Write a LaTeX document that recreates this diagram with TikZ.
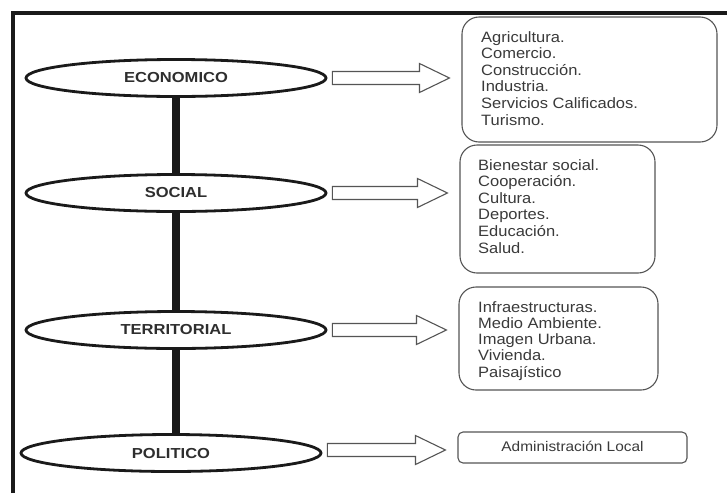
\documentclass[tikz,border=0pt]{standalone}
\usepackage{fontspec}
\setmainfont{Liberation Sans}
\newfontfamily\listfont[FakeStretch=1.1]{Liberation Sans}
\newfontfamily\labelfont[FakeStretch=1.14]{Liberation Sans}
\usetikzlibrary{calc}
\definecolor{framecol}{HTML}{1A1A1A}
\definecolor{boxcol}{HTML}{555555}
\definecolor{txtcol}{HTML}{3A3A3A}
\definecolor{lblcol}{HTML}{2E2E2E}
\tikzset{
  dim/.style={ellipse, draw=framecol, line width=2.8pt, fill=white,
    minimum width=300pt, minimum height=37pt, inner sep=0pt,
    font=\labelfont\bfseries\fontsize{14.5}{16}\selectfont, text=lblcol},
  itembox/.style={draw=boxcol, line width=1.1pt, rounded corners=17pt, inner sep=0pt},
  itemtext/.style={anchor=base west, align=left, inner sep=0pt, text=txtcol,
    font=\listfont\fontsize{15}{16.6}\selectfont},
  blockarrow/.style={draw=boxcol, line width=1.1pt, fill=white, line join=miter},
  spine/.style={line width=8pt, draw=framecol}
}
\usetikzlibrary{shapes.geometric}
\begin{document}
\begin{tikzpicture}[x=1pt, y=-1pt]
\useasboundingbox (0,0) rectangle (727,493);
\fill[white] (0,0) rectangle (727,493);
% frame
\coordinate (fb) at (13,493);
\coordinate (fc) at (13,12.5);
\coordinate (fr) at (727,12.5);
\draw[line width=4pt, draw=framecol] (fb) -- (fc) -- (fr);

% dimension ellipses
\node[dim] (e1) at (176,78) {ECONOMICO};
\node[dim] (e2) at (176,193) {SOCIAL};
\node[dim] (e3) at (176,330) {TERRITORIAL};
\node[dim] (e4) at (171,453) {POLITICO};

% spine
\draw[spine] (e1.south) -- (e2.north);
\draw[spine] (e2.south) -- (e3.north);
\draw[spine] (e3.south) -- (e3.south |- e4.north);

% boxes
\node[itembox, minimum width=255pt, minimum height=125pt] (b1) at (589.5,79.5) {};
\node[itembox, minimum width=195pt, minimum height=128pt] (b2) at (557.5,209) {};
\node[itembox, minimum width=199pt, minimum height=103pt] (b3) at (558.5,338.5) {};
\node[itembox, rounded corners=5pt, minimum width=229pt, minimum height=31pt,
      text=txtcol, font=\listfont\fontsize{14}{16}\selectfont] (b4) at (572.5,447.5)
      {\raisebox{2pt}{Administración Local}};

% texts (anchor = baseline of the last line)
\node[itemtext] (t1) at (481,125) {Agricultura.\\Comercio.\\Construcción.\\Industria.\\Servicios Calificados.\\Turismo.};
\node[itemtext] (t2) at (478,253) {Bienestar social.\\Cooperación.\\Cultura.\\Deportes.\\Educación.\\Salud.};
\node[itemtext, font=\listfont\fontsize{15}{16.25}\selectfont] (t3) at (478,377) {Infraestructuras.\\Medio Ambiente.\\Imagen Urbana.\\Vivienda.\\Paisajístico};

% block arrows
\foreach \e/\b/\dy in {e1/b1/0, e2/b2/0, e3/b3/0, e4/b4/-3}{
  \draw[blockarrow]
    ($(\e.east)+(5,\dy)+(0,-6.5)$) -- ($(\b.west |- \e.east)+(-42,\dy)+(0,-6.5)$)
    -- ($(\b.west |- \e.east)+(-42,\dy)+(0,-14.5)$)
    -- ($(\b.west |- \e.east)+(-12,\dy)$)
    -- ($(\b.west |- \e.east)+(-42,\dy)+(0,14.5)$)
    -- ($(\b.west |- \e.east)+(-42,\dy)+(0,6.5)$)
    -- ($(\e.east)+(5,\dy)+(0,6.5)$) -- cycle;
}
\end{tikzpicture}
\end{document}
